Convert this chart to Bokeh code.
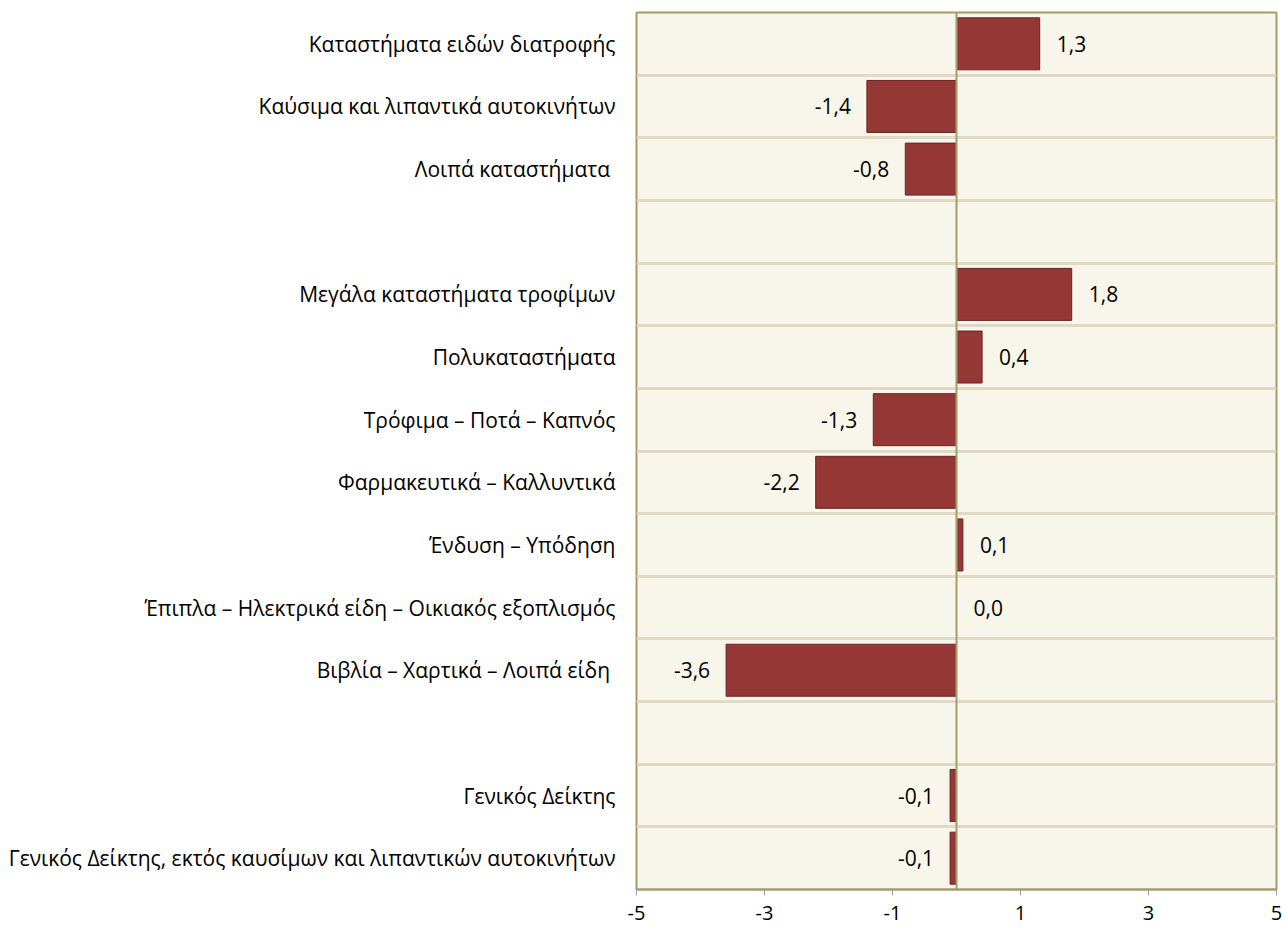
from bokeh.plotting import figure
from bokeh.models import ColumnDataSource, Range1d, FixedTicker, Span
from bokeh.core.properties import value
from bokeh.embed import file_html
from bokeh.resources import INLINE

categories = [
    "Καταστήματα ειδών διατροφής",
    "Καύσιμα και λιπαντικά αυτοκινήτων",
    "Λοιπά καταστήματα ",
    "",
    "Μεγάλα καταστήματα τροφίμων",
    "Πολυκαταστήματα",
    "Τρόφιμα – Ποτά – Καπνός",
    "Φαρμακευτικά – Καλλυντικά",
    "Ένδυση – Υπόδηση",
    "Έπιπλα – Ηλεκτρικά είδη – Οικιακός εξοπλισμός",
    "Βιβλία – Χαρτικά – Λοιπά είδη ",
    "",
    "Γενικός Δείκτης",
    "Γενικός Δείκτης, εκτός καυσίμων και λιπαντικών αυτοκινήτων",
]
values = [1.3, -1.4, -0.8, None, 1.8, 0.4, -1.3, -2.2, 0.1, 0.0, -3.6, None, -0.1, -0.1]
x_ticks = [-5, -3, -1, 1, 3, 5]
x_tick_labels = ["-5", "-3", "-1", "1", "3", "5"]

FONT = "Open Sans"
n = len(categories)
ypos = [n - i for i in range(n)]

rows = [(y, c, v) for y, c, v in zip(ypos, categories, values) if v is not None]
ys = [r[0] for r in rows]
vals = [r[2] for r in rows]
labs = [f"{v:.1f}".replace(".", ",") for v in vals]

pos = ColumnDataSource(dict(y=[y for y, v in zip(ys, vals) if v >= 0],
                            v=[v for v in vals if v >= 0],
                            t=[t for t, v in zip(labs, vals) if v >= 0]))
neg = ColumnDataSource(dict(y=[y for y, v in zip(ys, vals) if v < 0],
                            v=[v for v in vals if v < 0],
                            t=[t for t, v in zip(labs, vals) if v < 0]))
bars = ColumnDataSource(dict(y=ys, v=vals))

p = figure(width=1285, height=932, output_backend="svg", toolbar_location=None,
           x_range=Range1d(-5, 5), y_range=Range1d(0.5, n + 0.5),
           min_border_left=636, min_border_right=9, min_border_top=12, min_border_bottom=43)

p.background_fill_color = "#F8F5EA"
p.border_fill_color = "white"
p.outline_line_color = "#A39C6C"
p.outline_line_width = 2

p.xgrid.visible = False
p.ygrid.ticker = FixedTicker(ticks=[i + 0.5 for i in range(1, n)])
p.ygrid.grid_line_color = "#DEDAC4"
p.ygrid.grid_line_width = 3

p.hbar(y="y", right="v", left=0, height=0.83, source=bars,
       fill_color="#953735", line_color="#6A2523", line_width=1)

p.add_layout(Span(location=0, dimension="height", line_color="#A39C6C", line_width=2))

p.text(x="v", y="y", text="t", source=pos, x_offset=17, text_align="left",
       text_baseline="middle", text_font=value(FONT), text_font_size="21px", text_color="black")
p.text(x="v", y="y", text="t", source=neg, x_offset=-16, text_align="right",
       text_baseline="middle", text_font=value(FONT), text_font_size="21px", text_color="black")

xa = p.xaxis[0]
xa.ticker = FixedTicker(ticks=x_ticks)
xa.major_label_overrides = dict(zip(x_ticks, x_tick_labels))
xa.axis_line_color = "#A39C6C"
xa.axis_line_width = 2
xa.major_tick_line_color = "#A0A0A0"
xa.major_tick_out = 6
xa.major_tick_in = 0
xa.minor_tick_line_color = None
xa.major_label_text_font = FONT
xa.major_label_text_font_size = "20px"
xa.major_label_text_color = "black"
xa.major_label_standoff = 10

ya = p.yaxis[0]
ya.ticker = FixedTicker(ticks=ys)
ya.major_label_overrides = {y: c for y, c, v in rows}
ya.axis_line_color = None
ya.major_tick_line_color = None
ya.minor_tick_line_color = None
ya.major_tick_out = 0
ya.major_label_standoff = 21
ya.major_label_text_font = FONT
ya.major_label_text_font_size = "21px"
ya.major_label_text_color = "black"

open("out.html", "w").write(file_html(p, INLINE))
